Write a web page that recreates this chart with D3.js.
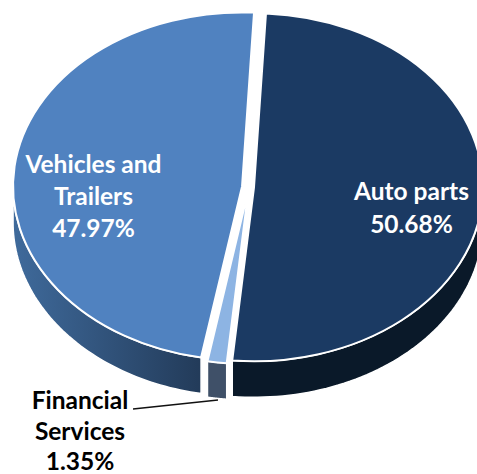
<!DOCTYPE html>
<html>
<head>
<meta charset="utf-8">
<script src="https://cdn.jsdelivr.net/npm/d3@7"></script>
<style>
html,body{margin:0;padding:0;background:#fff;overflow:hidden}
text{font-family:Lato,"Open Sans",sans-serif;font-weight:700;font-size:24.5px;text-anchor:middle}
</style>
</head>
<body>
<svg id="chart" width="477" height="474"></svg>
<script>
// Revenue share by business segment, drawn as an exploded 3D pie
const categories = ["Auto parts", "Financial Services", "Vehicles and Trailers"];
const shares = [50.68, 1.35, 47.97];
const topColors = ["#1b3a63", "#8db4e3", "#5082c0"];
const explode = [5, 4, 7];

const width = 477, height = 474;
const cx = 249, cy = 187, rx = 229, ry = 174, depth = 36;
const startDeg = 3;

const svg = d3.select("#chart");
const defs = svg.append("defs");

// Rim shading for the left-hand slice
const rim = defs.append("linearGradient").attr("id", "rimBlue")
  .attr("gradientUnits", "userSpaceOnUse")
  .attr("x1", 14).attr("x2", 205).attr("y1", 0).attr("y2", 0);
rim.append("stop").attr("offset", 0).attr("stop-color", "#3f6a9b");
rim.append("stop").attr("offset", 1).attr("stop-color", "#223a58");

const rimColors = ["#0a1929", "#3f5068", "url(#rimBlue)"];

const start = startDeg * Math.PI / 180;
const pie = d3.pie().sort(null).startAngle(start).endAngle(start + 2 * Math.PI);
const slices = pie(shares);
const yScale = ry / rx;

const centerOf = (s, i) => {
  const mid = (s.startAngle + s.endAngle) / 2;
  return [cx + explode[i] * Math.sin(mid), cy - explode[i] * yScale * Math.cos(mid)];
};

const arc = d3.arc().innerRadius(0).outerRadius(rx);

// Outer wall of a slice: only the part of its rim on the near half of the ellipse
function wallPath(s, i) {
  const [ox, oy] = centerOf(s, i);
  const a0 = Math.max(s.startAngle, Math.PI / 2);
  const a1 = Math.min(s.endAngle, 3 * Math.PI / 2);
  const steps = d3.range(0, 61).map(k => a0 + (a1 - a0) * k / 60);
  const edge = steps.map(a => [ox + rx * Math.sin(a), oy - ry * Math.cos(a)]);
  const lower = edge.map(p => [p[0], p[1] + depth]).reverse();
  return d3.line()(edge.concat(lower)) + "Z";
}

const order = [2, 0, 1];

svg.append("g").selectAll("path").data(order).join("path")
  .attr("d", i => wallPath(slices[i], i))
  .attr("fill", i => rimColors[i])
  .attr("stroke", "#fff").attr("stroke-width", 1.5);

svg.append("g").selectAll("path").data(order).join("path")
  .attr("transform", i => {
    const [ox, oy] = centerOf(slices[i], i);
    return `translate(${ox},${oy}) scale(1,${yScale})`;
  })
  .attr("d", i => arc(slices[i]))
  .attr("fill", i => topColors[i])
  .attr("stroke", "#fff").attr("stroke-width", 2)
  .attr("vector-effect", "non-scaling-stroke");

// Leader from the small slice to its outside label
svg.append("path")
  .attr("d", d3.line()([[133, 409], [218, 400]]))
  .attr("fill", "none").attr("stroke", "#111").attr("stroke-width", 1.3);

const fmt = v => v.toFixed(2) + "%";
const labels = [
  { lines: ["Auto parts", fmt(shares[0])], x: 411.5, y: 200, fill: "#fff", dy: 33 },
  { lines: ["Vehicles and", "Trailers", fmt(shares[2])], x: 93.5, y: 173, fill: "#fff", dy: 32 },
  { lines: ["Financial", "Services", fmt(shares[1])], x: 80, y: 409, fill: "#000", dy: 30.5 }
];

labels.forEach(l => {
  svg.append("g").selectAll("text").data(l.lines).join("text")
    .attr("x", l.x)
    .attr("y", (d, k) => l.y + k * l.dy)
    .attr("fill", l.fill)
    .text(d => d);
});
</script>
</body>
</html>
